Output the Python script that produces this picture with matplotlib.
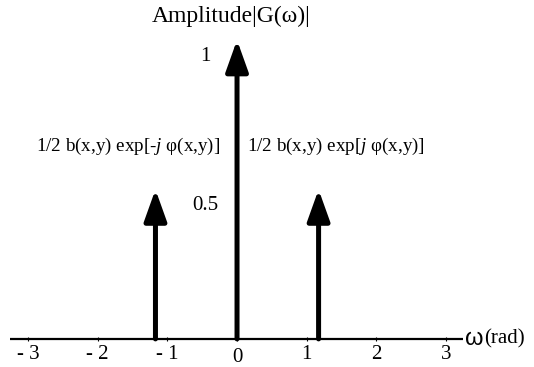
import matplotlib.pyplot as plt

# spectral lines: frequency (rad) and amplitude
omega = [-1.17, 0.0, 1.17]
amp = [0.5, 1.0, 0.5]

xticks = [-3, -2, -1, 0, 1, 2, 3]
xticklabels = ['- 3', '- 2', '- 1', '0', '1', '2', '3']
yticks = [0.5, 1.0]
yticklabels = ['0.5', '1']

plt.rcParams['font.family'] = ['Liberation Serif', 'DejaVu Serif']
plt.rcParams['mathtext.fontset'] = 'custom'
plt.rcParams['mathtext.rm'] = 'Liberation Serif'
plt.rcParams['mathtext.it'] = 'Liberation Serif:italic'

fig = plt.figure(figsize=(5.34, 3.67), dpi=100)
ax = fig.add_axes([0, 0, 1, 1])
ax.set_xlim(-3.40, 4.26)
ax.set_ylim(-0.094, 1.134)
ax.axis('off')

# frequency axis
ax.plot([-3.26, 3.24], [0, 0], color='black', lw=1.6, solid_capstyle='butt')
ax.plot(xticks, [0] * len(xticks), ls='none', marker='|', ms=3, mew=0.8, color='black')

for x, a in zip(omega, amp):
    ax.annotate('', xy=(x, a), xytext=(x, 0),
                arrowprops=dict(arrowstyle='-|>,head_length=1.9,head_width=0.68',
                                lw=3.6, color='black', shrinkA=0, shrinkB=0))

for x, lab in zip(xticks, xticklabels):
    dy = -0.063 if x == 0 else -0.053
    ax.text(x, dy, lab, ha='center', va='center', fontsize=15)

for y, lab in zip(yticks, yticklabels):
    ax.text(-0.46, y - 0.055, lab, ha='center', va='center', fontsize=15)

ax.text(-0.08, 1.08, 'Amplitude|G(ω)|', ha='center', va='center', fontsize=17)
ax.text(3.27, 0, 'ω', ha='left', va='center', fontsize=17, family='Liberation Sans')
ax.text(3.54, 0, '(rad)', ha='left', va='center', fontsize=15)

ax.text(-0.24, 0.645, r'1/2 b(x,y) exp[-$\it{j}$ φ(x,y)]', ha='right', va='center', fontsize=13.7)
ax.text(0.14, 0.645, r'1/2 b(x,y) exp[$\it{j}$ φ(x,y)]', ha='left', va='center', fontsize=13.7)

fig.savefig('out.png', dpi=100)
